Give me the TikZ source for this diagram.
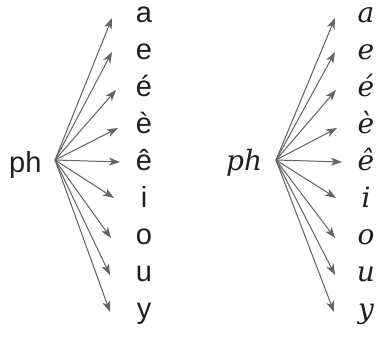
\documentclass[tikz,border=0pt]{standalone}
\usepackage{fontspec}
\setmainfont{Liberation Sans}
\newfontfamily\cursivefont{DejaVu Serif}
\usetikzlibrary{arrows.meta}
\definecolor{arrgray}{RGB}{100,100,100}
\tikzset{
  arr/.style={draw=arrgray, line width=1pt, -{Stealth[length=11pt,width=8pt,inset=3pt]}, fill=arrgray},
  sans/.style={font=\fontsize{29}{29}\selectfont, anchor=base, inner sep=0pt, text=black!88},
  curs/.style={font=\fontsize{28}{28}\cursivefont\itshape, anchor=base, inner sep=0pt, text=black!88},
}
\begin{document}
\begin{tikzpicture}[x=1pt,y=-1pt]
\useasboundingbox (0,0) rectangle (379,348);
% left
\node[sans, anchor=base west] (phA) at (9,172) {ph};
\coordinate (oA) at (55,160);
\foreach \n/\t/\b/\tx/\ty in {1/a/22/112/18, 2/e/59/112/52, 3/é/96/116/90, 4/è/133/118/128, 5/ê/170/120/162, 6/i/207/114/198, 7/o/244/111/238, 8/u/281/110/275, 9/y/318/110/312}{
  \node[sans] (LA\n) at (144,\b) {\t};
  \coordinate (TA\n) at (\tx,\ty);
  \draw[arr] (oA) -- (TA\n);
}
% right
\node[curs, anchor=base west] (phB) at (226,170) {ph};
\coordinate (oB) at (276,160);
\foreach \n/\t/\b/\tx/\ty in {1/a/22/335/18, 2/e/59/335/52, 3/é/96/336/90, 4/è/133/337/128, 5/ê/170/342/162, 6/i/207/336/198, 7/o/244/335/238, 8/u/281/335/275, 9/y/318/334/312}{
  \node[curs] (LB\n) at (366,\b) {\t};
  \coordinate (TB\n) at (\tx,\ty);
  \draw[arr] (oB) -- (TB\n);
}
\end{tikzpicture}
\end{document}
